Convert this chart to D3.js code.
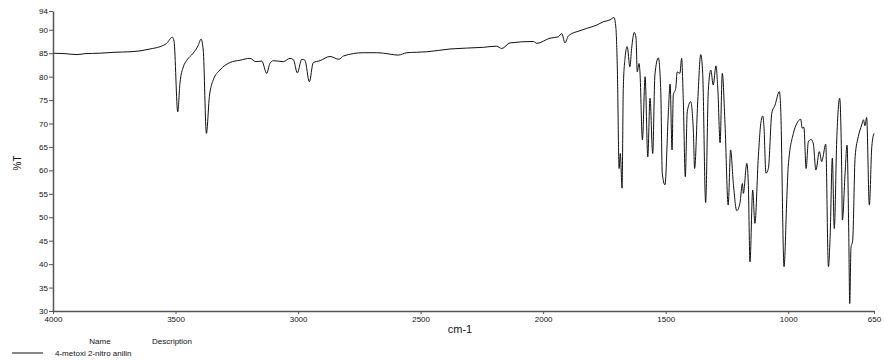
<!DOCTYPE html>
<html>
<head>
<meta charset="utf-8">
<script src="https://cdn.jsdelivr.net/npm/d3@7"></script>
<style>
  html, body { margin: 0; padding: 0; background: #fff; }
  svg { display: block; font-family: "Liberation Sans", Arial, sans-serif; }
</style>
</head>
<body>
<svg id="chart" width="884" height="361"></svg>
<script>
// IR spectrum of 4-metoxi 2-nitro anilin (wavenumber in cm-1, transmittance in %T)
const wavenumber = [
  4000, 3951, 3902, 3869, 3808, 3747, 3686, 3645, 3604, 3563, 3536, 3513, 3506, 3491,
  3482, 3468, 3454, 3428, 3407, 3396, 3387, 3374, 3362, 3346, 3319, 3278, 3237, 3196,
  3172, 3148, 3128, 3115, 3101, 3060, 3033, 3019, 3003, 2985, 2972, 2954, 2938, 2910,
  2870, 2833, 2815, 2734, 2679, 2652, 2591, 2557, 2516, 2475, 2380, 2244, 2190, 2169,
  2135, 2040, 2026, 1972, 1938, 1924, 1911, 1897, 1850, 1822, 1781, 1755, 1727, 1711,
  1703, 1697, 1690, 1685, 1678, 1673, 1666, 1657, 1646, 1639, 1628, 1621, 1616, 1609,
  1605, 1595, 1584, 1573, 1564, 1553, 1544, 1530, 1520, 1514, 1503, 1489, 1482, 1474,
  1469, 1459, 1453, 1442, 1435, 1428, 1420, 1412, 1398, 1387, 1382, 1369, 1357, 1349,
  1337, 1326, 1316, 1306, 1295, 1287, 1278, 1269, 1258, 1245, 1235, 1224, 1210, 1197,
  1187, 1183, 1169, 1163, 1156, 1145, 1136, 1122, 1112, 1104, 1099, 1091, 1081, 1067,
  1054, 1036, 1031, 1017, 1006, 1000, 979, 965, 949, 943, 936, 927, 918, 907,
  898, 887, 873, 863, 859, 847, 836, 829, 820, 812, 802, 790, 782, 779,
  768, 760, 753, 749, 744, 737, 727, 714, 700, 693, 687, 680, 669, 659, 650
];
const transmittance = [
  85.0, 84.9, 84.7, 84.9, 85.0, 85.2, 85.3, 85.5, 85.9, 86.4, 87.1, 88.4, 87.5, 72.5,
  78.6, 82.1, 83.5, 85.0, 86.7, 88.0, 85.7, 67.9, 75.7, 79.3, 81.4, 83.0, 83.5, 83.9,
  83.2, 83.3, 80.7, 82.8, 83.4, 83.2, 83.9, 83.6, 80.8, 83.7, 83.5, 78.9, 83.0, 83.4,
  84.3, 83.7, 84.4, 85.1, 85.1, 85.0, 84.6, 85.1, 85.2, 85.3, 85.9, 86.25, 86.5, 86.0,
  87.2, 87.5, 87.1, 88.2, 88.5, 89.2, 87.2, 88.7, 89.8, 90.3, 91.0, 91.7, 92.1, 92.6,
  90.3, 81.0, 60.4, 63.6, 56.2, 77.5, 83.9, 86.4, 82.1, 86.0, 89.45, 88.2, 81.0, 82.8,
  81.0, 66.5, 80.0, 62.9, 75.4, 63.6, 80.35, 84.0, 76.8, 59.4, 56.9, 72.5, 78.4, 64.35,
  76.1, 77.5, 81.0, 80.7, 83.9, 74.65, 58.65, 72.5, 74.65, 68.25, 60.4, 75.0, 84.7, 80.7,
  53.1, 77.1, 81.4, 78.2, 82.3, 77.1, 65.9, 80.7, 70.0, 52.6, 64.35, 57.2, 51.4, 53.0,
  57.2, 55.1, 61.5, 57.5, 40.5, 55.8, 48.7, 62.9, 70.0, 71.6, 69.3, 59.4, 60.4, 72.2,
  73.9, 76.8, 73.6, 39.45, 53.7, 60.8, 67.9, 70.0, 70.9, 69.0, 69.2, 60.4, 66.1, 66.6,
  65.8, 60.1, 64.0, 61.85, 62.6, 65.6, 39.45, 45.85, 62.6, 47.6, 66.5, 75.4, 60.8, 49.4,
  59.4, 65.4, 46.6, 31.6, 43.4, 45.1, 62.9, 67.2, 69.7, 70.8, 69.5, 71.3, 52.6, 65.05, 67.9
];

const xTicks = [4000, 3500, 3000, 2500, 2000, 1500, 1000, 650];
const yTicks = [94, 90, 85, 80, 75, 70, 65, 60, 55, 50, 45, 40, 35, 30];

const legendHeaders = ["Name", "Description"];
const seriesName = "4-metoxi 2-nitro anilin";

const svg = d3.select("#chart");
const plot = { left: 53, right: 874, top: 11, bottom: 311 };

const x = d3.scaleLinear().domain([4000, 650]).range([plot.left, plot.right]);
const y = d3.scaleLinear().domain([30, 94]).range([plot.bottom, plot.top]);

const points = wavenumber.map((w, i) => [w, transmittance[i]]);

// spectrum trace
const line = d3.line()
  .x(d => x(d[0]))
  .y(d => y(d[1]))
  .curve(d3.curveMonotoneX);

svg.append("path")
  .datum(points)
  .attr("fill", "none")
  .attr("stroke", "#111")
  .attr("stroke-width", 1)
  .attr("stroke-linejoin", "round")
  .attr("d", line);

// axes
const axisColor = "#555";

const yAxis = svg.append("g")
  .attr("transform", `translate(${plot.left},0)`)
  .call(d3.axisLeft(y).tickValues(yTicks).tickSize(4).tickPadding(1).tickSizeOuter(0));

const xAxis = svg.append("g")
  .attr("transform", `translate(0,${plot.bottom})`)
  .call(d3.axisBottom(x).tickValues(xTicks).tickSize(3).tickPadding(2).tickSizeOuter(0)
    .tickFormat(d3.format("d")));

[yAxis, xAxis].forEach(g => {
  g.select(".domain").attr("stroke", axisColor).attr("stroke-width", 1.5);
  g.selectAll(".tick line").attr("stroke", axisColor);
  g.selectAll(".tick text")
    .attr("fill", "#111")
    .style("font-family", "'Liberation Sans', Arial, sans-serif")
    .style("font-size", "8px");
});

// axis titles
svg.append("text")
  .attr("transform", `translate(21,163) rotate(-90)`)
  .attr("text-anchor", "middle")
  .attr("fill", "#111")
  .style("font-size", "10px")
  .text("%T");

svg.append("text")
  .attr("x", 460)
  .attr("y", 333)
  .attr("text-anchor", "middle")
  .attr("fill", "#111")
  .style("font-size", "11px")
  .text("cm-1");

// legend
svg.append("text")
  .attr("x", 100).attr("y", 344)
  .attr("text-anchor", "middle")
  .attr("fill", "#111")
  .style("font-size", "8px")
  .text(legendHeaders[0]);

svg.append("text")
  .attr("x", 152).attr("y", 344)
  .attr("fill", "#111")
  .style("font-size", "8px")
  .text(legendHeaders[1]);

svg.append("line")
  .attr("x1", 12).attr("x2", 43)
  .attr("y1", 353).attr("y2", 353)
  .attr("stroke", "#111")
  .attr("stroke-width", 1);

svg.append("text")
  .attr("x", 55).attr("y", 356)
  .attr("fill", "#111")
  .style("font-size", "8px")
  .text(seriesName);
</script>
</body>
</html>
